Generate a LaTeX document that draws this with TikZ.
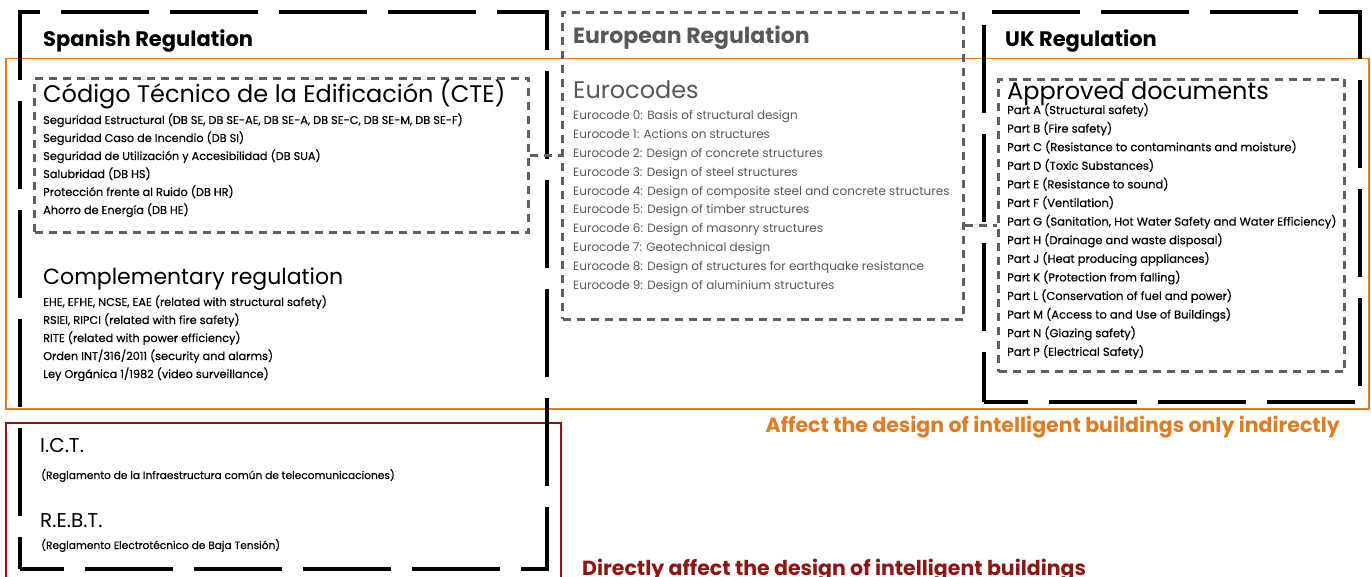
\documentclass[tikz,border=0pt]{standalone}
\usepackage{fontspec}
\setmainfont{Poppins}
\usetikzlibrary{positioning,calc}
\definecolor{indirectcolor}{RGB}{224,124,34}
\definecolor{directcolor}{RGB}{140,22,22}
\definecolor{eurocolor}{RGB}{88,88,88}
\definecolor{dashcolor}{RGB}{95,95,95}
\tikzset{
  %% regbox : black frame round one regulation
  regbox/.style={
    rectangle,
    draw=black,
    line width=4pt,
    dash pattern=on 88pt off 21pt,
    dash phase=44pt,
    anchor=north west,
    inner sep=0pt
  },
  %% docbox : grey dashed frame round a set of documents
  docbox/.style={
    rectangle,
    draw=dashcolor,
    line width=3pt,
    dash pattern=on 8pt off 6pt,
    anchor=north west,
    inner sep=0pt
  },
  %% link : dashed connection between two sets of documents
  link/.style={dashcolor, line width=3pt, dash pattern=on 8pt off 6pt},
  %% effect : thin frame round what affects the design
  effect/.style={
    rectangle,
    line width=1.5pt,
    anchor=north west,
    inner sep=0pt
  },
  %% texts
  regtitle/.style={anchor=base west, inner sep=0pt,
    font=\fontsize{21}{24}\selectfont\bfseries},
  dochead/.style={anchor=base west, inner sep=0pt,
    font=\fontsize{24}{28}\selectfont},
  docitem/.style={anchor=base west, inner sep=0pt,
    font=\fontsize{11.3}{13}\selectfont\addfontfeatures{FakeBold=0.4}},
  effectnote/.style={inner sep=0pt,
    font=\fontsize{20.5}{24}\selectfont\bfseries}
}

\begin{document}
\begin{tikzpicture}
  [x=1pt,
  y=-1pt]

  \useasboundingbox (0,0) rectangle (1371,577);

  %% Frames of what affects the design
  \node (indirect) [effect, draw=indirectcolor, minimum width=1363pt,
    minimum height=350pt] at (5,58) {};
  \node (direct) [effect, draw=directcolor, minimum width=555pt,
    minimum height=170pt] at (5,422) {};

  %% Regulations
  \node (spanish) [regbox, minimum width=527pt, minimum height=557pt]
    at (18,10) {};
  \node (uk) [regbox, minimum width=376pt, minimum height=390pt]
    at (982,10) {};
  \node (eurobox) [docbox, minimum width=401pt, minimum height=307pt]
    at (561,11) {};

  %% Sets of documents
  \node (ctebox) [docbox, minimum width=494pt, minimum height=154pt]
    at (33,77) {};
  \node (approvedbox) [docbox, minimum width=346pt, minimum height=292pt]
    at (997,78) {};

  %% Connections
  \draw [link] (ctebox.east) -- (ctebox.east -| eurobox.west);
  \draw [link] (approvedbox.west -| eurobox.east) -- (approvedbox.west);

  %% Titles
  \node (spanishtitle) [regtitle] at (43,47) {Spanish Regulation};
  \node (eurotitle) [regtitle, eurocolor, font=\fontsize{22}{24}\selectfont\bfseries]
    at (573,44) {European Regulation};
  \node (uktitle) [regtitle] at (1005,47) {UK Regulation};

  %% Spanish regulation
  \node (ctehead) [dochead] at (43,103)
    {Código Técnico de la Edificación (CTE)};
  \foreach \txt [count=\i from 0] in {
    {Seguridad Estructural (DB SE, DB SE-AE, DB SE-A, DB SE-C, DB SE-M, DB SE-F)},
    {Seguridad Caso de Incendio (DB SI)},
    {Seguridad de Utilización y Accesibilidad (DB SUA)},
    {Salubridad (DB HS)},
    {Protección frente al Ruido (DB HR)},
    {Ahorro de Energía (DB HE)}}
    \node (cte\i) [docitem] at (43,124+18*\i) {\txt};

  \node (comphead) [dochead, font=\fontsize{22}{26}\selectfont]
    at (43,285) {Complementary regulation};
  \foreach \txt [count=\i from 0] in {
    {EHE, EFHE, NCSE, EAE (related with structural safety)},
    {RSIEI, RIPCI (related with fire safety)},
    {RITE (related with power efficiency)},
    {Orden INT/316/2011 (security and alarms)},
    {Ley Orgánica 1/1982 (video surveillance)}}
    \node (comp\i) [docitem] at (43,306+18*\i) {\txt};

  \node (icthead) [dochead, font=\fontsize{20}{24}\selectfont]
    at (40,452) {I.C.T.};
  \node (ictnote) [docitem, font=\fontsize{10.6}{12}\selectfont
    \addfontfeatures{FakeBold=0.4}] at (41,479)
    {(Reglamento de la Infraestructura común de telecomunicaciones)};
  \node (rebthead) [dochead, font=\fontsize{20}{24}\selectfont]
    at (40,527) {R.E.B.T.};
  \node (rebtnote) [docitem, font=\fontsize{10.6}{12}\selectfont
    \addfontfeatures{FakeBold=0.4}] at (41,549)
    {(Reglamento Electrotécnico de Baja Tensión)};

  %% European regulation
  \node (eurohead) [dochead, eurocolor] at (573,99) {Eurocodes};
  \foreach \txt [count=\i from 0] in {
    Basis of structural design,
    Actions on structures,
    Design of concrete structures,
    Design of steel structures,
    Design of composite steel and concrete structures,
    Design of timber structures,
    Design of masonry structures,
    Geotechnical design,
    Design of structures for earthquake resistance,
    Design of aluminium structures}
    \node (euro\i) [docitem, eurocolor, font=\fontsize{12}{14}\selectfont]
      at (573,120+18.8*\i) {Eurocode \i: \txt};

  %% UK regulation
  \node (approvedhead) [dochead] at (1007,100) {Approved documents};
  \foreach \txt [count=\i from 0] in {
    A (Structural safety),
    B (Fire safety),
    C (Resistance to contaminants and moisture),
    D (Toxic Substances),
    E (Resistance to sound),
    F (Ventilation),
    {G (Sanitation, Hot Water Safety and Water Efficiency)},
    H (Drainage and waste disposal),
    J (Heat producing appliances),
    K (Protection from falling),
    L (Conservation of fuel and power),
    M (Access to and Use of Buildings),
    N (Glazing safety),
    P (Electrical Safety)}
    \node (part\i) [docitem, font=\fontsize{11.5}{13}\selectfont
      \addfontfeatures{FakeBold=0.4}] at (1007,114+18.6*\i) {Part \txt};

  %% Notes
  \node (indirectnote) [effectnote, indirectcolor, anchor=base east]
    at (1340,432) {Affect the design of intelligent buildings only indirectly};
  \node (directnote) [effectnote, directcolor, anchor=base west]
    at (582,575) {Directly affect the design of intelligent buildings};

\end{tikzpicture}
\end{document}
